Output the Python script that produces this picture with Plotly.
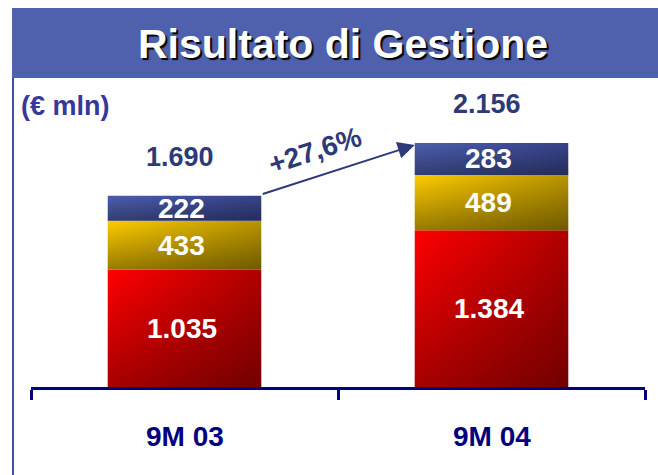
import plotly.graph_objects as go

# values in € mln
categories = ['9M 03', '9M 04']
gestione_base = [1035, 1384]   # red segment
gestione_mid = [433, 489]      # yellow segment
gestione_top = [222, 283]      # blue segment
totals = [1690, 2156]
growth = '+27,6%'

def fmt(v):
    return f'{v:,}'.replace(',', '.')

# pixel helpers for paper coordinates
W, H = 658, 475
L, R, T, B = 31, 13, 80, 88
def px(x):
    return (x - L) / (W - L - R)
def py(y):
    return (H - B - y) / (H - T - B)

NAVY = '#000080'
SLATE = '#2E3A78'
FONT = 'Arial, Liberation Sans, sans-serif'
HALF = 0.25  # half bar width in category units

# (values, left colour, right colour, darkening at bottom)
layers = [
    (gestione_base, '#FF0000', '#B00000', 0.35),
    (gestione_mid, '#FFCC00', '#B89400', 0.40),
    (gestione_top, '#4C5EAE', '#37438A', 0.35),
]

fig = go.Figure()
annotations = []
base = [0, 0]
for vals, c0, c1, dark in layers:
    for i, c in enumerate(categories):
        y0, y1 = base[i], base[i] + vals[i]
        xs = [i - HALF, i + HALF, i + HALF, i - HALF, i - HALF]
        ys = [y0, y0, y1, y1, y0]
        # horizontal gradient segment
        fig.add_trace(go.Scatter(x=xs, y=ys, mode='lines', fill='toself', line=dict(width=0),
                                 fillgradient=dict(type='horizontal', colorscale=[[0, c0], [1, c1]]),
                                 hoverinfo='skip', showlegend=False))
        # darker towards the bottom
        fig.add_trace(go.Scatter(x=xs, y=ys, mode='lines', fill='toself', line=dict(width=0),
                                 fillgradient=dict(type='vertical',
                                                   colorscale=[[0, f'rgba(0,0,0,{dark})'], [1, 'rgba(0,0,0,0)']]),
                                 hoverinfo='skip', showlegend=False))
        annotations.append(dict(x=i, y=(y0 + y1) / 2, xref='x', yref='y', text=fmt(vals[i]),
                                showarrow=False, xanchor='center', yanchor='middle', xshift=-3,
                                font=dict(family=FONT, size=28, color='white', weight='bold')))
        base[i] = y1

# totals
for i, c in enumerate(categories):
    annotations.append(dict(x=i, y=totals[i], xref='x', yref='y', text=fmt(totals[i]), yshift=39, xshift=-5,
                            showarrow=False, xanchor='center', yanchor='middle',
                            font=dict(family=FONT, size=27, color=SLATE, weight='bold')))

# category labels
for i, c in enumerate(categories):
    annotations.append(dict(x=i, xref='x', y=py(436), yref='paper', text=c, showarrow=False,
                            xanchor='center', yanchor='middle',
                            font=dict(family=FONT, size=28, color=NAVY, weight='bold')))

# growth arrow
annotations.append(dict(x=0.75, y=totals[1] - 18, xref='x', yref='y',
                        ax=0.25, ay=totals[0] + 10, axref='x', ayref='y', text='',
                        showarrow=True, arrowhead=2, arrowsize=1.7, arrowwidth=2, arrowcolor=SLATE))
annotations.append(dict(x=px(315), y=py(150), xref='paper', yref='paper', text=growth, textangle=-18,
                        showarrow=False, xanchor='center', yanchor='middle',
                        font=dict(family=FONT, size=28, color=SLATE, weight='bold')))

# title and unit
annotations.append(dict(x=px(343), y=py(44), xref='paper', yref='paper', text='Risultato di Gestione',
                        showarrow=False, xanchor='center', yanchor='middle',
                        font=dict(family=FONT, size=41, color='white', weight='bold', shadow='2px 2px 1px #000')))
annotations.append(dict(x=px(19), y=py(106), xref='paper', yref='paper', xanchor='left', yanchor='middle',
                        text='(€ mln)', showarrow=False,
                        font=dict(family=FONT, size=27, color='#35399A', weight='bold')))

shapes = [
    dict(type='rect', xref='paper', yref='paper', x0=px(12), x1=px(658), y0=py(78), y1=py(8),
         fillcolor='#4F60AD', line=dict(width=0), layer='below'),
    dict(type='line', xref='paper', yref='paper', x0=px(13), x1=px(13), y0=py(78), y1=py(475),
         line=dict(color='#4050A8', width=2)),
]

fig.update_layout(
    width=W, height=H,
    margin=dict(l=L, r=R, t=T, b=B),
    paper_bgcolor='white', plot_bgcolor='white',
    annotations=annotations, shapes=shapes,
    xaxis=dict(range=[-0.5, 1.5], showgrid=False, zeroline=False,
               showline=True, linecolor=NAVY, linewidth=3,
               tickvals=[-0.5, 0.5, 1.5], ticks='outside', ticklen=10, tickwidth=3, tickcolor=NAVY,
               showticklabels=False, fixedrange=True),
    yaxis=dict(range=[0, 2712], visible=False, fixedrange=True),
)

fig.write_html('out.html', config={'displayModeBar': False},
               post_script="document.body.style.margin='0';")
